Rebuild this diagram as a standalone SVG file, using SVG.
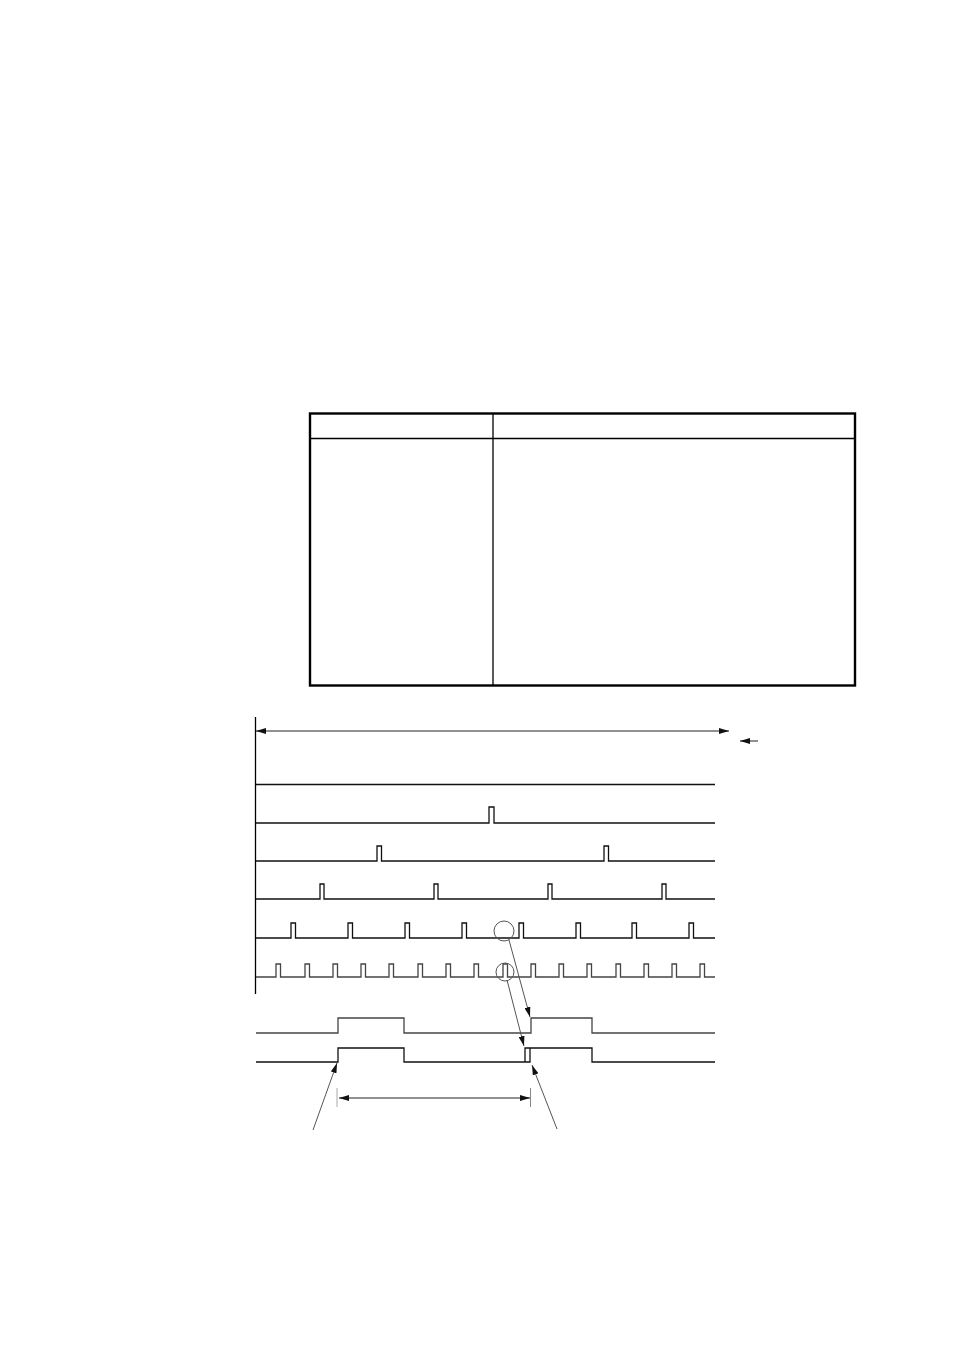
<svg xmlns="http://www.w3.org/2000/svg" width="954" height="1351" viewBox="0 0 954 1351">
<style>
.sig{fill:none;stroke:#111;stroke-width:1.3}
.sigg{fill:none;stroke:#444;stroke-width:1.3}
.thin{fill:none;stroke:#555;stroke-width:1}
.arr{fill:none;stroke:#222;stroke-width:1}
</style>
<defs>
<marker id="ah" viewBox="0 0 10 6" refX="10" refY="3" markerWidth="10" markerHeight="6" markerUnits="userSpaceOnUse" orient="auto-start-reverse">
<path d="M0,0 L10,3 L0,6 Z" fill="#111"/>
</marker>
</defs>
<rect width="954" height="1351" fill="#fff"/>
<g id="table">
<rect x="310" y="413.5" width="545" height="272" fill="none" stroke="#000" stroke-width="2.4"/>
<line x1="310" y1="438.5" x2="855" y2="438.5" stroke="#000" stroke-width="1.3"/>
<line x1="493" y1="413.5" x2="493" y2="685.5" stroke="#000" stroke-width="1.3"/>
</g>
<g id="axis">
<line x1="255.5" y1="717" x2="255.5" y2="994" stroke="#000" stroke-width="1.3"/>
</g>
<g id="row0"><path class="sig" d="M256,784.5 H715"/></g>
<g id="row1"><path class="sig" d="M256,823 H489 V807 H494 V823 H715"/></g>
<g id="row2"><path class="sig" d="M256,861 H377 V846 H381.5 V861 H604 V846 H608.5 V861 H715"/></g>
<g id="row3"><path class="sig" d="M256,899 H320 V884 H324 V899 H434 V884 H438 V899 H548 V884 H552 V899 H662 V884 H666 V899 H715"/></g>
<g id="row4"><path class="sig" d="M256,938 H291 V923 H295.5 V938 H348 V923 H352.5 V938 H405 V923 H409.5 V938 H462 V923 H466.5 V938 H519 V923 H523.5 V938 H576 V923 H580.5 V938 H632 V923 H636.5 V938 H689 V923 H693.5 V938 H715"/></g>
<g id="row5"><path class="sigg" d="M256,977 H276 V964 H280.5 V977 H305 V964 H309.5 V977 H333 V964 H337.5 V977 H361 V964 H365.5 V977 H389 V964 H393.5 V977 H418 V964 H422.5 V977 H446 V964 H450.5 V977 H474 V964 H478.5 V977 H503 V964 H507.5 V977 H531 V964 H535.5 V977 H559 V964 H563.5 V977 H587 V964 H591.5 V977 H616 V964 H620.5 V977 H644 V964 H648.5 V977 H672 V964 H676.5 V977 H700 V964 H704.5 V977 H715"/></g>
<g id="signalA"><path class="sigg" d="M256,1033 H338 V1018 H404 V1033 H531 V1018 H592 V1033 H715"/></g>
<g id="signalB"><path class="sig" d="M256,1062 H338 V1048 H404 V1062 H530 V1048 M525,1062 V1048 H592 V1062 H715"/></g>
<g id="circles">
<circle cx="504" cy="931" r="10" class="thin"/>
<circle cx="505" cy="972" r="9" class="thin"/>
</g>
<g id="connectors">
<line x1="256" y1="731" x2="729" y2="731" class="arr" marker-start="url(#ah)" marker-end="url(#ah)"/>
<line x1="758" y1="741" x2="740" y2="741" class="arr" marker-end="url(#ah)"/>
<line x1="509" y1="940" x2="530" y2="1017" class="thin" marker-end="url(#ah)"/>
<line x1="507" y1="980" x2="524" y2="1046" class="thin" marker-end="url(#ah)"/>
<line x1="313" y1="1130" x2="337" y2="1063" class="thin" marker-end="url(#ah)"/>
<line x1="557" y1="1129" x2="532" y2="1065" class="thin" marker-end="url(#ah)"/>
<line x1="337" y1="1088" x2="337" y2="1107" stroke="#aaa" stroke-width="1"/>
<line x1="530.5" y1="1088" x2="530.5" y2="1107" stroke="#888" stroke-width="1"/>
<line x1="339" y1="1098" x2="530" y2="1098" class="arr" marker-start="url(#ah)" marker-end="url(#ah)"/>
</g>
</svg>
